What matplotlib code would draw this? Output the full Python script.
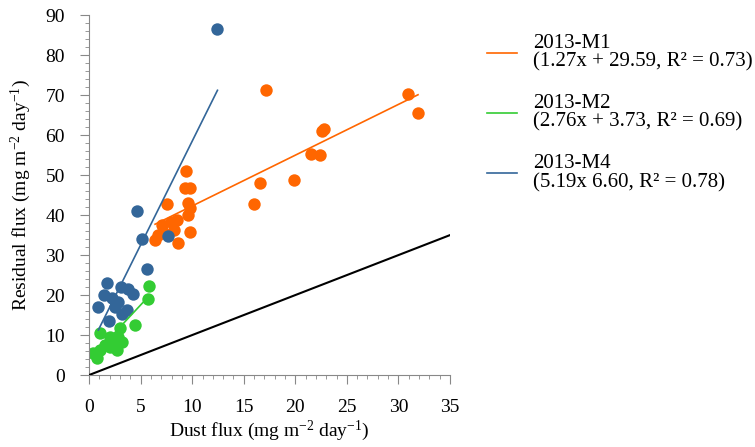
import matplotlib.pyplot as plt
import numpy as np
from matplotlib.ticker import MultipleLocator

plt.rcParams['font.family'] = ['Liberation Serif', 'DejaVu Serif']
plt.rcParams['mathtext.fontset'] = 'custom'
plt.rcParams['mathtext.rm'] = 'Liberation Serif'
plt.rcParams['mathtext.it'] = 'Liberation Serif:italic'

# 2013-M1
m1_x = [17.2, 30.95, 31.9, 22.8, 22.6, 21.5, 22.4, 19.85, 16.6, 16.0, 9.4, 9.3, 9.8,
        7.6, 9.6, 9.8, 9.6, 8.5, 7.9, 7.05, 7.2, 6.7, 6.4, 8.2, 9.8, 8.65]
m1_y = [71.2, 70.4, 65.6, 61.6, 61.1, 55.4, 55.0, 48.9, 48.0, 42.9, 51.1, 46.9, 46.9,
        42.9, 43.1, 41.7, 40.0, 38.8, 38.3, 37.5, 35.8, 35.0, 33.8, 36.3, 35.8, 32.9]
# 2013-M2
m2_x = [5.85, 5.7, 4.46, 1.07, 2.04, 3.0, 2.85, 2.36, 3.16, 1.55, 1.07, 0.42, 0.74, 2.7, 2.0]
m2_y = [22.3, 18.9, 12.5, 10.4, 9.6, 11.7, 9.6, 8.3, 8.3, 7.5, 6.25, 5.4, 4.2, 6.25, 7.1]
# 2013-M4
m4_x = [12.45, 4.6, 5.1, 7.7, 5.66, 1.7, 3.1, 3.75, 4.3, 1.4, 2.2, 0.9, 2.85, 3.65, 2.5, 1.9, 3.2]
m4_y = [86.5, 41.1, 33.9, 34.7, 26.6, 22.9, 21.9, 21.5, 20.2, 20.0, 19.2, 17.0, 18.3, 16.2,
        17.1, 13.6, 15.2]

# trendline coefficients (slope, intercept) as printed in the legend
fits = {'M1': (1.27, 29.59), 'M2': (2.76, 3.73), 'M4': (5.19, 6.60)}
labels = ['2013-M1\n(1.27x + 29.59, R\u00b2 = 0.73)',
          '2013-M2\n(2.76x + 3.73, R\u00b2 = 0.69)',
          '2013-M4\n(5.19x 6.60, R\u00b2 = 0.78)']

c_or = '#ff6600'
c_gr = '#33cc33'
c_bl = '#336699'

fig = plt.figure(figsize=(7.55, 4.47), dpi=100)
ax = fig.add_axes([0.118, 0.161, 0.478, 0.805])

ax.scatter(m1_x, m1_y, s=80, color=c_or, linewidths=0, zorder=2)
ax.scatter(m4_x, m4_y, s=80, color=c_bl, linewidths=0, zorder=2)
ax.scatter(m2_x, m2_y, s=80, color=c_gr, linewidths=0, zorder=2)

handles = []
for key, xs, col in (('M1', m1_x, c_or), ('M2', m2_x, c_gr), ('M4', m4_x, c_bl)):
    a, b = fits[key]
    xx = np.array([min(xs), max(xs)])
    h, = ax.plot(xx, a * xx + b, color=col, lw=1.2, zorder=3)
    handles.append(h)

# 1:1 line
ax.plot([0, 35], [0, 35], color='black', lw=1.5, zorder=3)

ax.set_xlim(0, 35)
ax.set_ylim(0, 90)
ax.xaxis.set_major_locator(MultipleLocator(5))
ax.xaxis.set_minor_locator(MultipleLocator(1))
ax.yaxis.set_major_locator(MultipleLocator(10))
ax.yaxis.set_minor_locator(MultipleLocator(2))

for s in ('top', 'right'):
    ax.spines[s].set_visible(False)
for s in ('left', 'bottom'):
    ax.spines[s].set_color('#888888')
ax.tick_params(which='major', direction='out', length=6.5, color='#888888',
               labelsize=14, pad=11)
ax.tick_params(which='minor', direction='out', length=3, color='#888888')

ax.set_xlabel('Dust flux (mg m$^{-2}$ day$^{-1}$)', fontsize=14, labelpad=2)
ax.set_ylabel('Residual flux (mg m$^{-2}$ day$^{-1}$)', fontsize=14, labelpad=9)

leg = fig.legend(handles, labels, loc='upper left', bbox_to_anchor=(0.62, 0.965),
                 frameon=False, fontsize=15, handlelength=1.45, handletextpad=0.75,
                 labelspacing=1.08)
for t in leg.get_texts():
    t.set_linespacing(0.95)

fig.savefig('out.png', dpi=100)
